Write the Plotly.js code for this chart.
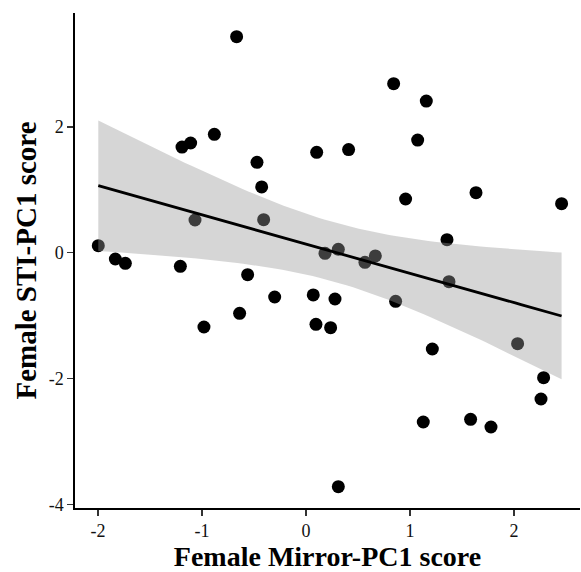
<!DOCTYPE html>
<html>
<head>
<meta charset="utf-8">
<script src="https://cdn.plot.ly/plotly-3.0.1.min.js"></script>
<style>html,body{margin:0;padding:0;background:#fff;}#chart{width:581px;height:572px;}</style>
</head>
<body>
<div id="chart"></div>
<script>
// Female Mirror-PC1 score (x) and Female STI-PC1 score (y)
const mirrorPC1 = [-1.997,-1.833,-1.737,-1.208,-1.192,-1.109,-1.067,-0.981,-0.881,-0.667,
  -0.638,-0.561,-0.471,-0.426,-0.407,-0.301,0.070,0.096,0.103,0.183,
  0.237,0.279,0.311,0.311,0.410,0.567,0.667,0.843,0.862,0.958,
  1.074,1.128,1.157,1.215,1.356,1.375,1.583,1.635,1.779,2.035,
  2.260,2.285,2.458];
const stiPC1 = [0.111,-0.100,-0.169,-0.217,1.680,1.744,0.520,-1.181,1.882,3.434,
  -0.964,-0.350,1.437,1.045,0.525,-0.704,-0.672,-1.139,1.596,-0.010,
  -1.192,-0.736,0.054,-3.720,1.640,-0.153,-0.052,2.687,-0.773,0.854,
  1.790,-2.692,2.410,-1.531,0.207,-0.461,-2.649,0.954,-2.771,-1.447,
  -2.326,-1.987,0.780];
// fitted regression line as drawn in the figure (values at both ends)
const fitEndX = [-1.997, 2.458];
const fitEndY = [1.065, -1.006];
const xTicks = [-2,-1,0,1,2];
const yTicks = [-4,-2,0,2];

// 95% confidence band width from the data (like geom_smooth(method = "lm"))
const n = mirrorPC1.length;
const mx = mirrorPC1.reduce((a,b)=>a+b,0)/n;
let sxx=0;
for (let i=0;i<n;i++){ sxx += (mirrorPC1[i]-mx)**2; }
const slope = (fitEndY[1]-fitEndY[0])/(fitEndX[1]-fitEndX[0]);
const icpt = fitEndY[0] - slope*fitEndX[0];
let sse=0;
for (let i=0;i<n;i++){ sse += (stiPC1[i]-(icpt+slope*mirrorPC1[i]))**2; }
const s = Math.sqrt(sse/(n-2));
const tq = 2.0195; // t(0.975, df = 41)
const fx=[], fy=[], up=[], lo=[];
for (let k=0;k<=80;k++){
  const x = fitEndX[0] + (fitEndX[1]-fitEndX[0])*k/80;
  const y = icpt + slope*x;
  const se = s*Math.sqrt(1/n + (x-mx)**2/sxx);
  fx.push(x); fy.push(y); up.push(y+tq*se); lo.push(y-tq*se);
}

const font = "Liberation Serif, Times New Roman, serif";
const data = [
  {type:'scatter', mode:'markers', x:mirrorPC1, y:stiPC1,
   marker:{color:'#000', size:13, line:{width:0}}, hoverinfo:'skip', showlegend:false},
  {type:'scatter', mode:'lines', x:fx.concat(fx.slice().reverse()), y:up.concat(lo.slice().reverse()),
   fill:'toself', fillcolor:'rgba(153,153,153,0.4)', line:{width:0}, hoverinfo:'skip', showlegend:false},
  {type:'scatter', mode:'lines', x:fx, y:fy, line:{color:'#000', width:2.8}, hoverinfo:'skip', showlegend:false}
];
const layout = {
  width:581, height:572,
  margin:{l:75, r:1, t:13, b:64},
  paper_bgcolor:'#fff', plot_bgcolor:'#fff',
  font:{family:font, color:'#000'},
  xaxis:{range:[-2.221,2.635], tickvals:xTicks, ticktext:xTicks.map(String), showgrid:false, zeroline:false,
    showline:true, linecolor:'#000', linewidth:1.6, ticks:'outside', ticklen:6, tickwidth:1.4, tickcolor:'#333',
    tickfont:{size:18, color:'#111', family:font},
    title:{text:'<b>Female Mirror-PC1 score</b>', font:{size:28, family:font, color:'#000'}, standoff:6}},
  yaxis:{range:[-4.059,3.811], tickvals:yTicks, ticktext:yTicks.map(String), showgrid:false, zeroline:false,
    showline:true, linecolor:'#000', linewidth:1.6, ticks:'outside', ticklen:6, tickwidth:1.4, tickcolor:'#333',
    tickfont:{size:18, color:'#111', family:font},
    title:{text:'<b>Female STI-PC1 score</b>', font:{size:29, family:font, color:'#000'}, standoff:3}}
};
Plotly.newPlot('chart', data, layout, {staticPlot:true, displayModeBar:false});
</script>
</body>
</html>
